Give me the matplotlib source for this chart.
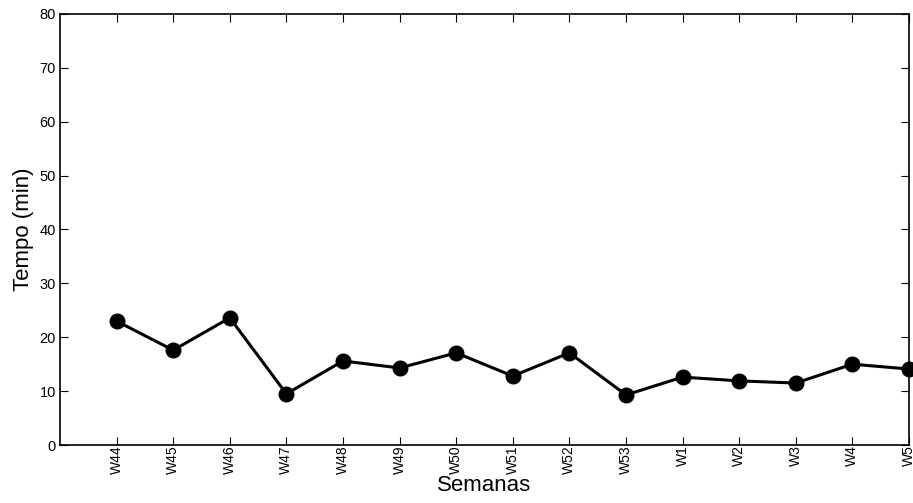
import matplotlib
matplotlib.use("Agg")
import matplotlib.pyplot as plt

plt.rcParams['font.family'] = ['Liberation Sans', 'DejaVu Sans']

# semanas e tempo medio por semana
semanas = ['W44', 'W45', 'W46', 'W47', 'W48', 'W49', 'W50', 'W51', 'W52', 'W53',
           'W1', 'W2', 'W3', 'W4', 'W5']
tempo = [23.0, 17.6, 23.6, 9.5, 15.6, 14.3, 17.1, 12.8, 17.1, 9.3,
         12.6, 11.9, 11.5, 15.0, 14.1]

fig = plt.figure(figsize=(9.13, 5.03), dpi=100)
ax = fig.add_axes([0.0657, 0.1153, 0.9299, 0.8569])

x = list(range(1, len(semanas) + 1))
ax.plot(x, tempo, '-o', color='black', linewidth=2.2, markersize=10.5, clip_on=False)

ax.set_xlim(0, len(semanas))
ax.set_ylim(0, 80)
ax.set_xticks(x)
ax.set_xticklabels(semanas, rotation=90, fontsize=10)
ax.set_yticks(range(0, 81, 10))
ax.tick_params(axis='y', labelsize=10.5, pad=3)
ax.tick_params(axis='x', pad=0)
ax.tick_params(direction='in', top=True, right=True, length=6, width=0.8)

for s in ax.spines.values():
    s.set_linewidth(1.2)

ax.set_xlabel('Semanas', fontsize=16, labelpad=1)
ax.set_ylabel('Tempo (min)', fontsize=16, labelpad=4)

fig.savefig('out.png', dpi=100)
